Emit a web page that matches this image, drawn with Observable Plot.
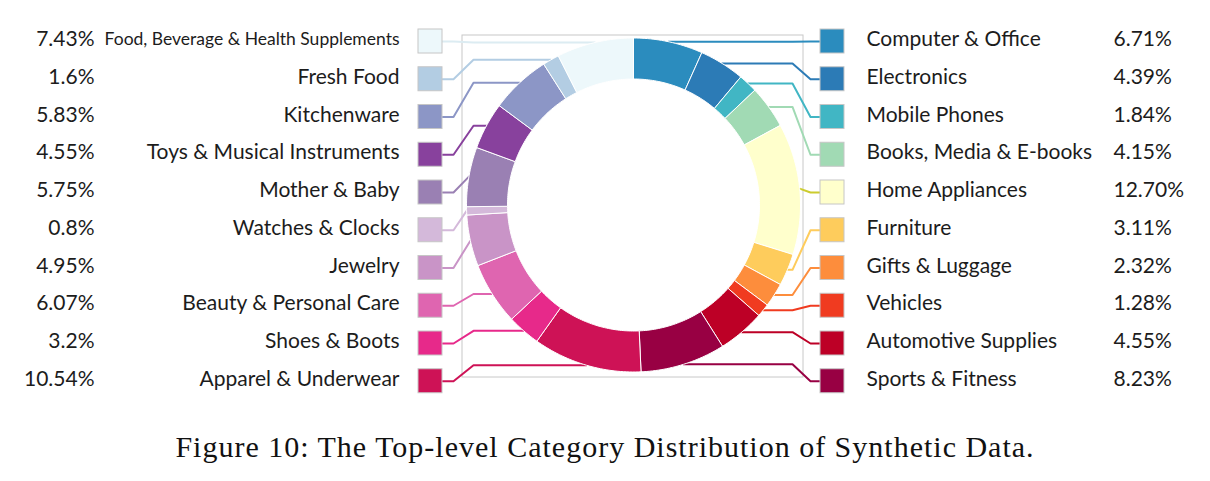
<!DOCTYPE html>
<html>
<head>
<meta charset="utf-8">
<script src="https://cdn.jsdelivr.net/npm/d3@7"></script>
<script src="https://cdn.jsdelivr.net/npm/@observablehq/plot@0.6"></script>
<style>
  body { margin: 0; background: #fff; }
  #chart { position: relative; width: 1210px; height: 481px; }
  #caption {
    position: absolute; left: 0; top: 432px; width: 1210px;
    text-align: center; font-family: "Liberation Serif", serif;
    font-size: 30px; line-height: 30px; letter-spacing: 1px; color: #111;
  }
</style>
</head>
<body>
<div id="chart"></div>
<script>
// Top-level categories, clockwise from 12 o'clock
const categories = [
  "Computer & Office", "Electronics", "Mobile Phones", "Books, Media & E-books",
  "Home Appliances", "Furniture", "Gifts & Luggage", "Vehicles",
  "Automotive Supplies", "Sports & Fitness", "Apparel & Underwear", "Shoes & Boots",
  "Beauty & Personal Care", "Jewelry", "Watches & Clocks", "Mother & Baby",
  "Toys & Musical Instruments", "Kitchenware", "Fresh Food",
  "Food, Beverage & Health Supplements"
];
// Share of the synthetic data, in percent (as printed)
const shares = [
  "6.71", "4.39", "1.84", "4.15", "12.70", "3.11", "2.32", "1.28", "4.55", "8.23",
  "10.54", "3.2", "6.07", "4.95", "0.8", "5.75", "4.55", "5.83", "1.6", "7.43"
];
// Slice colours
const palette = [
  "#2b8cbe", "#2c7bb6", "#41b6c4", "#a1dab4", "#ffffcc", "#fecc5c", "#fd8d3c",
  "#f03b20", "#bd0026", "#980043", "#ce1256", "#e7298a", "#df65b0", "#c994c7",
  "#d4b9da", "#9a80b3", "#88419d", "#8c96c6", "#b3cde3", "#edf8fb"
];
// Leader-line colours (the pale slices get slightly darker lines)
const leaderPalette = palette.map(c => c === "#ffffcc" ? "#cccc2e" : c === "#edf8fb" ? "#dcecf2" : c);

const W = 1210, H = 425;
const cx = 633, cy = 204.5, R = 167, R0 = 126;
const rowY = d3.scaleLinear().domain([0, 9]).range([41, 380.75]);

const values = shares.map(Number);
const angle = d3.scaleLinear().domain([0, d3.sum(values)]).range([0, 2 * Math.PI]);
const px = (r, a) => cx + r * Math.sin(a);
const py = (r, a) => cy - r * Math.cos(a);

let acc = 0;
const slices = categories.map((name, i) => {
  const a0 = angle(acc);
  acc += values[i];
  const a1 = angle(acc);
  const right = i < 10;
  return {
    name, i, a0, a1, right,
    row: right ? i : categories.length - 1 - i,
    label: shares[i] + "%",
    color: palette[i], leader: leaderPalette[i]
  };
});

// Annular sector outlines
const ring = slices.flatMap(s => {
  const n = Math.max(2, Math.ceil((s.a1 - s.a0) / (Math.PI / 180)));
  const as = d3.range(n + 1).map(k => s.a0 + (s.a1 - s.a0) * k / n);
  const outer = as.map(a => ({name: s.name, color: s.color, x: px(R, a), y: py(R, a)}));
  const inner = as.slice().reverse().map(a => ({name: s.name, color: s.color, x: px(R0, a), y: py(R0, a)}));
  return [...outer, ...inner, outer[0]];
});

// Leader lines: slice midpoint -> elbow -> legend swatch
const leaders = slices.flatMap(s => {
  const am = (s.a0 + s.a1) / 2;
  const ax = px(R, am), ay = py(R, am), y = rowY(s.row);
  const e1 = s.right ? Math.max(ax, cx + 159) : Math.min(ax, cx - 160);
  const e2 = s.right ? cx + 177 : cx - 180;
  const end = s.right ? cx + 187 : cx - 191;
  return [[ax, ay], [e1, ay], [e2, y], [end, y]].map(([x, y]) => ({name: s.name, color: s.leader, x, y}));
});

const sw = 24;
const swatches = slices.map(s => {
  const x0 = s.right ? cx + 187 : cx - 191 - sw;
  const y = rowY(s.row);
  return {...s, x1: x0, x2: x0 + sw, y1: y - sw / 2, y2: y + sw / 2};
});

const rightS = swatches.filter(s => s.right);
const leftS = swatches.filter(s => !s.right);
const ink = "#1c1c1c";
const fs = 21;

const chart = Plot.plot({
  width: W, height: H,
  margin: 0,
  x: {domain: [0, W], range: [0, W], axis: null},
  y: {domain: [0, H], range: [0, H], axis: null},
  color: {type: "identity"},
  style: {fontFamily: "Lato, sans-serif", background: "#fff"},
  marks: [
    Plot.rect([{}], {x1: cx - 171, x2: cx + 170, y1: cy - 169.5, y2: cy + 172.5, fill: "none", stroke: "#c8c8c8", strokeWidth: 1}),
    Plot.line(leaders, {x: "x", y: "y", z: "name", stroke: "color", strokeWidth: 2, curve: "linear"}),
    Plot.line(ring, {x: "x", y: "y", z: "name", fill: "color", stroke: "white", strokeWidth: 1, strokeLinejoin: "round"}),
    Plot.rect(swatches, {x1: "x1", x2: "x2", y1: "y1", y2: "y2", fill: "color", stroke: "#c6c6c6", strokeWidth: 1}),
    Plot.text(rightS, {x: cx + 233, y: d => rowY(d.row), text: "name", textAnchor: "start", fontSize: fs, fill: ink, dy: -2}),
    Plot.text(rightS, {x: cx + 480, y: d => rowY(d.row), text: "label", textAnchor: "start", fontSize: fs, fill: ink, dy: -2}),
    Plot.text(leftS, {x: cx - 234, y: d => rowY(d.row), text: "name", textAnchor: "end", fill: ink, dy: -2,
      fontSize: d => d.name.length > 30 ? 17.5 : fs}),
    Plot.text(leftS, {x: 94, y: d => rowY(d.row), text: "label", textAnchor: "end", fontSize: fs, fill: ink, dy: -2})
  ]
});

const host = document.getElementById("chart");
host.appendChild(chart);
const cap = document.createElement("div");
cap.id = "caption";
cap.textContent = "Figure 10: The Top-level Category Distribution of Synthetic Data.";
host.appendChild(cap);
</script>
</body>
</html>
